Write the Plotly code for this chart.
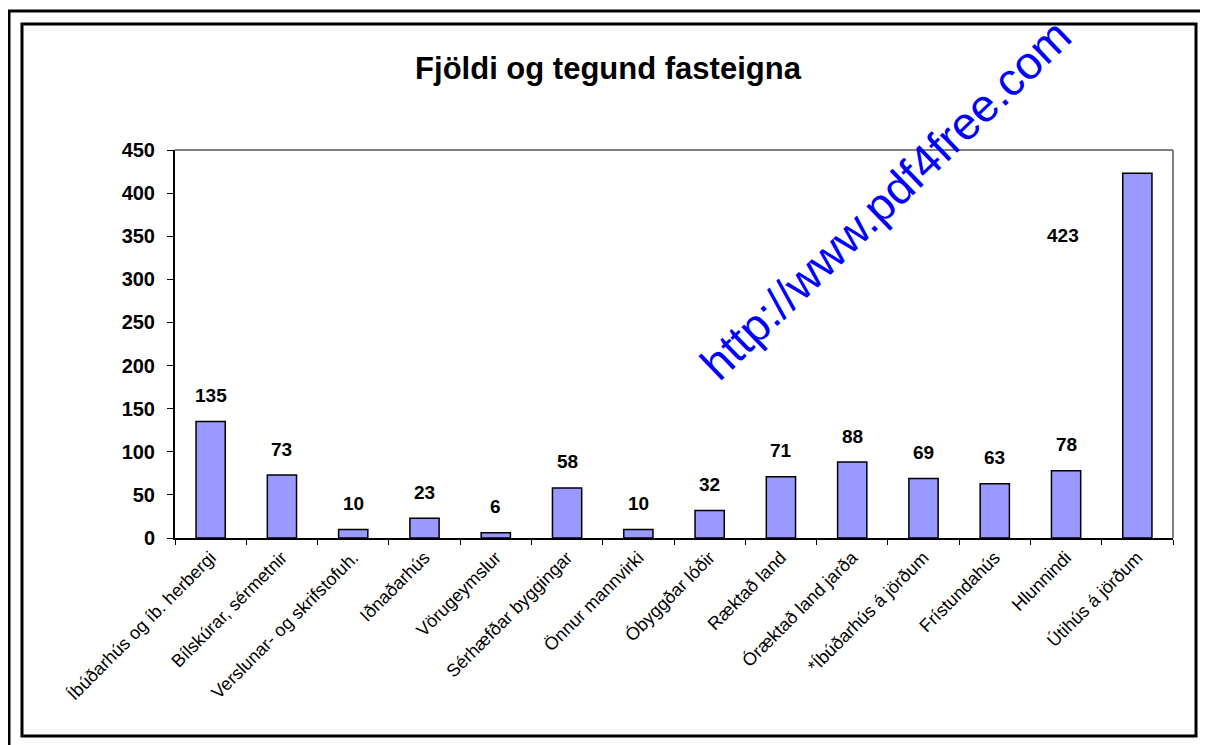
import plotly.graph_objects as go

categories = ["Íbúðarhús og íb. herbergi", "Bílskúrar, sérmetnir", "Verslunar- og skrifstofuh.",
              "Iðnaðarhús", "Vörugeymslur", "Sérhæfðar byggingar", "Önnur mannvirki",
              "Óbyggðar lóðir", "Ræktað land", "Óræktað land jarða", "*Íbúðarhús á jörðum",
              "Frístundahús", "Hlunnindi", "Útihús á jörðum"]
values = [135, 73, 10, 23, 6, 58, 10, 32, 71, 88, 69, 63, 78, 423]
y_ticks = [0, 50, 100, 150, 200, 250, 300, 350, 400, 450]

W, H = 1208, 745
OFF = 8  # browser default body margin
L, R, T, B = 175 - OFF, W - (1173 - OFF), 150 - OFF, H - (538 - OFF)
pw, ph = W - L - R, H - T - B


def px(x):  # page x -> paper
    return (x - OFF - L) / pw


def py(y):  # page y -> paper
    return (H - B - (y - OFF)) / ph


fig = go.Figure()
fig.add_trace(go.Bar(
    x=categories, y=values, width=0.41,
    marker=dict(color="#9999FF", line=dict(color="black", width=1.5)),
))

for c, v in zip(categories, values):
    if v == max(values):
        fig.add_annotation(x=c, y=351, text=f"<b>{v}</b>", showarrow=False, yanchor="middle",
                           xshift=-74, font=dict(family="Liberation Sans, Arial", size=19, color="black"))
    else:
        fig.add_annotation(x=c, y=v, text=f"<b>{v}</b>", showarrow=False, yanchor="middle",
                           yshift=26, font=dict(family="Liberation Sans, Arial", size=19, color="black"))

fig.update_layout(
    width=W, height=H,
    margin=dict(l=L, r=R, t=T, b=B),
    paper_bgcolor="white", plot_bgcolor="white",
    showlegend=False,
    title=dict(text="<b>Fjöldi og tegund fasteigna</b>", x=px(608), xanchor="center", xref="paper",
               yref="container", y=1 - (68 - OFF) / H, yanchor="middle",
               font=dict(family="Liberation Sans, Arial", size=31, color="black")),
    xaxis=dict(tickangle=-45, showline=True, linecolor="black", linewidth=2,
               ticks="outside", tickson="boundaries", ticklen=5, tickcolor="black",
               tickfont=dict(family="Liberation Sans, Arial", size=18, color="black"),
               showgrid=False, mirror=False),
    yaxis=dict(range=[0, 450], tickvals=y_ticks, ticktext=[f"<b>{t}</b>" for t in y_ticks],
               showline=True, linecolor="black", linewidth=2, ticks="outside", ticklen=6,
               tickcolor="black", showgrid=False, zeroline=False, ticklabelstandoff=8,
               tickfont=dict(family="Liberation Sans, Arial", size=20, color="black")),
)

# plot area gray border top and right
fig.add_shape(type="line", xref="paper", yref="paper", x0=0, x1=1, y0=1, y1=1,
              line=dict(color="#808080", width=2))
fig.add_shape(type="line", xref="paper", yref="paper", x0=1, x1=1, y0=0, y1=1,
              line=dict(color="#808080", width=2))

# chart frames
fig.add_shape(type="rect", xref="paper", yref="paper", x0=px(22), x1=px(1196), y0=py(736), y1=py(24),
              line=dict(color="black", width=3), layer="above")
fig.add_shape(type="rect", xref="paper", yref="paper", x0=px(9), x1=px(1230), y0=py(770), y1=py(11),
              line=dict(color="black", width=3), layer="above")

# watermark
fig.add_annotation(xref="paper", yref="paper", x=px(885), y=py(200), xanchor="center", yanchor="middle",
                   text="http://www.pdf4free.com", showarrow=False, textangle=-44,
                   font=dict(family="Liberation Sans, Arial", size=46, color="#0000FF"))

fig.write_html("out.html")
